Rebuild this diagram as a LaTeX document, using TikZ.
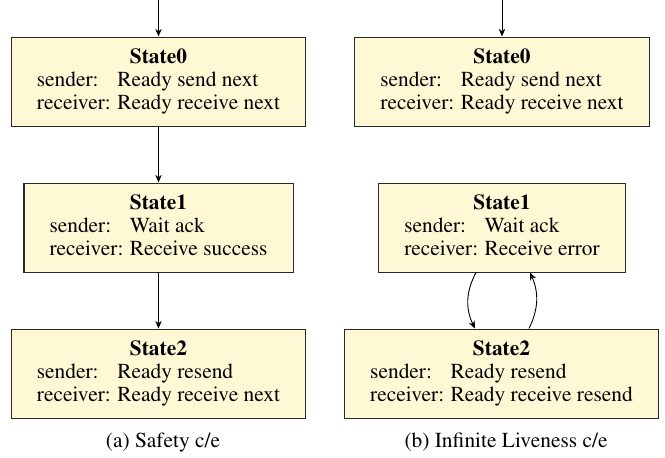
\documentclass[tikz,border=0pt]{standalone}
\usepackage[T1]{fontenc}
\usepackage{times}
\usetikzlibrary{arrows.meta}
\definecolor{boxfill}{RGB}{255,248,212}
\definecolor{boxline}{RGB}{40,40,40}
\tikzset{
  statebox/.style={draw=boxline, fill=boxfill, line width=0.5pt, inner xsep=12.75pt, inner ysep=0pt, minimum height=44.5pt, font=\fontsize{10.7}{11.5}\selectfont},
  conn/.style={line width=0.45pt, -{Stealth[length=3.8pt,width=3.2pt,inset=1.2pt]}},
  capt/.style={font=\fontsize{10.7}{12}\selectfont, anchor=base}
}
\newcommand{\stbl}[3]{\renewcommand{\arraystretch}{1}\begin{tabular}{@{}l@{\hspace{3.2pt}}l@{}}\multicolumn{2}{c}{\textbf{#1}}\\ sender: & #2\\ receiver: & #3\end{tabular}}
\begin{document}
\begin{tikzpicture}[x=0.5pt,y=-0.5pt]
\useasboundingbox (0,0) rectangle (665,457);
% left column
\coordinate (lt) at (158.5,0);
\node[statebox] (L0) at (158.5,81.5) {\stbl{State0}{Ready send next}{Ready receive next}};
\node[statebox] (L1) at (158.5,227.5) {\stbl{State1}{Wait ack}{Receive success}};
\node[statebox] (L2) at (158.5,373.5) {\stbl{State2}{Ready resend}{Ready receive next}};
\draw[conn] (lt) -- (L0);
\draw[conn] (L0) -- (L1);
\draw[conn] (L1) -- (L2);
\node[capt] (ca) at (163,447) {(a) Safety c/e};
% right column
\coordinate (rt) at (502,0);
\node[statebox] (R0) at (502,81.5) {\stbl{State0}{Ready send next}{Ready receive next}};
\node[statebox] (R1) at (502,227.5) {\stbl{State1}{Wait ack}{Receive error}};
\node[statebox] (R2) at (501.5,373.5) {\stbl{State2}{Ready resend}{Ready receive resend}};
\draw[conn] (rt) -- (R0);
\draw[conn] ([xshift=-13pt]R1.south) to[bend right=27] ([xshift=-13.25pt]R2.north);
\draw[conn] ([xshift=13.75pt]R2.north) to[bend right=25] ([xshift=14pt]R1.south);
\node[capt] (cb) at (506,447) {(b) Infinite Liveness c/e};
\end{tikzpicture}
\end{document}
